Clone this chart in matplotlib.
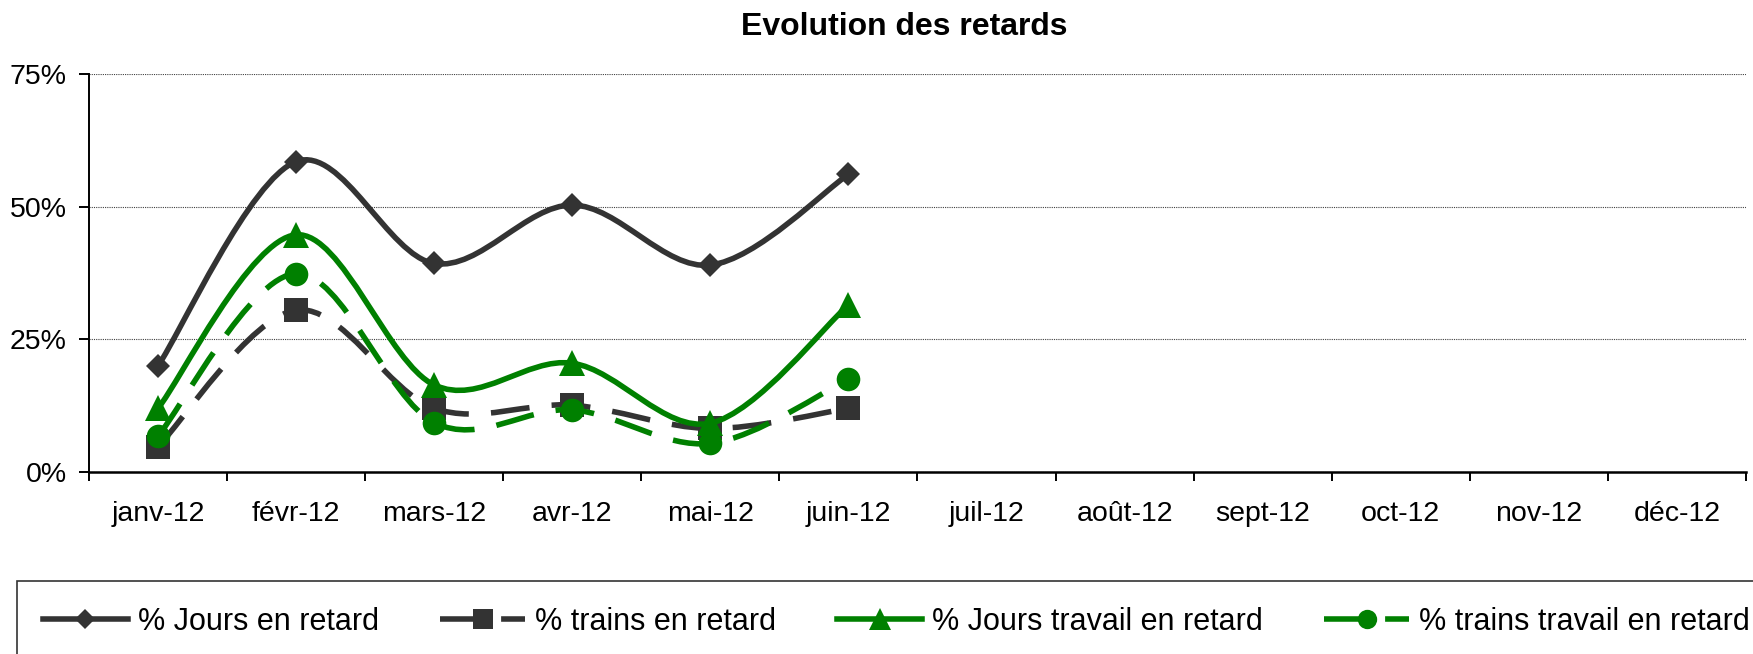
import numpy as np
import matplotlib
matplotlib.use('Agg')
from matplotlib import pyplot as plt
from matplotlib.path import Path
from matplotlib.patches import PathPatch
from matplotlib.lines import Line2D
from matplotlib.ticker import PercentFormatter

plt.rcParams['font.family'] = ['Liberation Sans', 'DejaVu Sans']

mois = ['janv-12', 'févr-12', 'mars-12', 'avr-12', 'mai-12', 'juin-12',
        'juil-12', 'août-12', 'sept-12', 'oct-12', 'nov-12', 'déc-12']

# valeurs en % (janv -> juin)
jours_retard = [20.0, 58.5, 39.3, 50.3, 39.0, 56.1]
trains_retard = [4.8, 30.5, 12.0, 12.6, 8.2, 12.0]
jours_travail_retard = [12.0, 44.7, 16.4, 20.5, 9.2, 31.5]
trains_travail_retard = [6.8, 37.4, 9.3, 11.7, 5.4, 17.5]

GRIS = '#333333'
VERT = '#008000'
LW = 4.0
TIRETS = (0, (7, 4))


def courbe_lissee(ax, y, **kw):
    # ligne lissee facon Excel (bezier type catmull-rom entre les points)
    pts = np.column_stack([np.arange(len(y), dtype=float), np.asarray(y, dtype=float)])
    n = len(pts)
    verts = [pts[0]]
    codes = [Path.MOVETO]
    for i in range(n - 1):
        p0 = pts[max(i - 1, 0)]
        p1 = pts[i]
        p2 = pts[i + 1]
        p3 = pts[min(i + 2, n - 1)]
        verts += [p1 + (p2 - p0) / 6, p2 - (p3 - p1) / 6, p2]
        codes += [Path.CURVE4] * 3
    ax.add_patch(PathPatch(Path(verts, codes), fill=False, capstyle='butt',
                           joinstyle='round', **kw))


fig = plt.figure(figsize=(17.53, 6.54), dpi=100)
ax = fig.add_axes([89 / 1753, 1 - 472 / 654, (1746 - 89) / 1753, (472 - 74) / 654])

series = [
    (jours_retard, GRIS, '-', 'D', 12.5, '% Jours en retard'),
    (trains_retard, GRIS, TIRETS, 's', 17, '% trains en retard'),
    (jours_travail_retard, VERT, '-', '^', 19, '% Jours travail en retard'),
    (trains_travail_retard, VERT, TIRETS, 'o', 17, '% trains travail en retard'),
]

handles = []
for k, (vals, coul, ls, mk, ms, nom) in enumerate(series):
    courbe_lissee(ax, vals, edgecolor=coul, linewidth=LW, linestyle=ls, zorder=3 + 2 * k)
    x = np.arange(len(vals))
    ax.plot(x, vals, linestyle='none', marker=mk, markersize=ms, color=coul,
            markeredgewidth=0, zorder=4 + 2 * k)
    handles.append(Line2D([], [], color=coul, lw=LW, linestyle=ls, marker=mk,
                          markersize=ms * 0.82, markeredgewidth=0))

ax.set_xlim(-0.5, 11.5)
ax.set_ylim(0, 75)
ax.set_xticks(range(12))
ax.set_xticklabels(mois)
ax.set_xticks(np.arange(-0.5, 12, 1), minor=True)
ax.set_yticks([0, 25, 50, 75])
ax.yaxis.set_major_formatter(PercentFormatter(xmax=100, decimals=0))

ax.tick_params(axis='x', which='major', length=0, pad=21, labelsize=20.5)
ax.tick_params(axis='x', which='minor', length=6.5, width=1.4, direction='out')
ax.tick_params(axis='y', length=7, width=1.4, pad=9, labelsize=20.5)

ax.yaxis.grid(True, color='#404040', linestyle=(0, (1, 1)), linewidth=0.8)
ax.set_axisbelow(True)
for s in ['top', 'right']:
    ax.spines[s].set_visible(False)
ax.spines['left'].set_linewidth(1.4)
ax.spines['bottom'].set_linewidth(1.8)

fig.text(904.5 / 1753, 1 - 35 / 654, 'Evolution des retards', ha='center',
         va='baseline', fontsize=23, fontweight='bold')

leg = fig.legend(handles=handles, labels=[s[5] for s in series],
                 loc='upper left', bbox_to_anchor=(17 / 1753, 1 - 581 / 654),
                 ncol=4, fontsize=22, frameon=True, fancybox=False,
                 borderaxespad=0, borderpad=0.85, handlelength=2.78,
                 handletextpad=0.33, columnspacing=2.0, numpoints=1)
leg.get_frame().set_edgecolor('black')
leg.get_frame().set_linewidth(1.2)

fig.savefig('out.png', dpi=100)
